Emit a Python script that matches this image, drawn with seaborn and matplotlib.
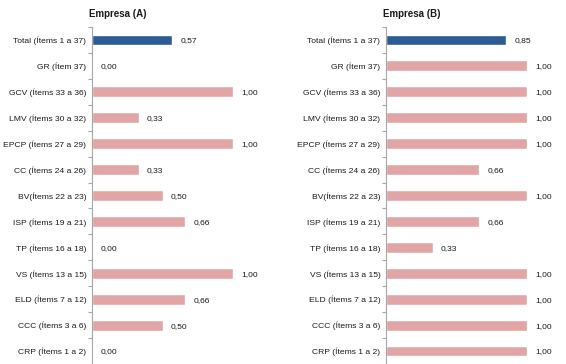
import numpy as np
import pandas as pd
import matplotlib.pyplot as plt
import seaborn as sns

# Data
categorias = ['Total (Ítems 1 a 37)', 'GR (Ítem 37)', 'GCV (Ítems 33 a 36)',
              'LMV (Ítems 30 a 32)', 'EPCP (Ítems 27 a 29)', 'CC (Ítems 24 a 26)',
              'BV(Ítems 22 a 23)', 'ISP (Ítems 19 a 21)', 'TP (Ítems 16 a 18)',
              'VS (Ítems 13 a 15)', 'ELD (Ítems 7 a 12)', 'CCC (Ítems 3 a 6)',
              'CRP (Ítems 1 a 2)']
empresa_a = [0.57, 0.00, 1.00, 0.33, 1.00, 0.33, 0.50, 0.66, 0.00, 1.00, 0.66, 0.50, 0.00]
empresa_b = [0.85, 1.00, 1.00, 1.00, 1.00, 0.66, 1.00, 0.66, 0.33, 1.00, 1.00, 1.00, 1.00]
titulos = ['Empresa (A)', 'Empresa (B)']

AZUL = '#2B5C93'
ROSA = '#E2A5A5'

sns.set_theme(style="white")
plt.rcParams['font.family'] = ['Liberation Sans', 'DejaVu Sans']

fig = plt.figure(figsize=(5.66, 3.64), dpi=100)

# axes positions (left, title x) in pixels
paneles = [(92, 118), (386, 412)]
ancho_px = 1.2 * 141

for (left_px, title_px), valores, titulo in zip(paneles, [empresa_a, empresa_b], titulos):
    ax = fig.add_axes([left_px / 566, 0.0, ancho_px / 566, 337 / 364])
    df = pd.DataFrame({'cat': categorias, 'valor': valores})
    colores = {c: (AZUL if i == 0 else ROSA) for i, c in enumerate(categorias)}
    sns.barplot(data=df, y='cat', x='valor', hue='cat', palette=colores,
                orient='h', width=0.42, legend=False, ax=ax, saturation=1)
    ax.set_xlim(0, 1.2)
    ax.set_ylim(12.5, -0.5)
    ax.set_xlabel('')
    ax.set_ylabel('')
    ax.set_xticks([])
    for s in ['top', 'right', 'bottom']:
        ax.spines[s].set_visible(False)
    ax.spines['left'].set_color('#A6A6A6')
    ax.spines['left'].set_linewidth(0.8)
    ax.tick_params(axis='y', which='major', length=0, pad=4, labelsize=6.1,
                   labelcolor='#1a1a1a')
    ax.set_yticks(np.arange(-0.5, 13, 1), minor=True)
    ax.tick_params(axis='y', which='minor', length=3, width=0.8, color='#A6A6A6',
                   direction='out', left=True)
    for i, v in enumerate(valores):
        ax.annotate(f'{v:.2f}'.replace('.', ','), xy=(v, i), xytext=(6, 0),
                    textcoords='offset points', va='center_baseline', ha='left',
                    fontsize=6.1, color='#1a1a1a')
    fig.text(title_px / 566, 1 - 14 / 364, titulo, ha='center', va='center',
             fontsize=7, fontweight='bold', color='#1a1a1a')

fig.savefig('out.png', dpi=100, facecolor='white')
